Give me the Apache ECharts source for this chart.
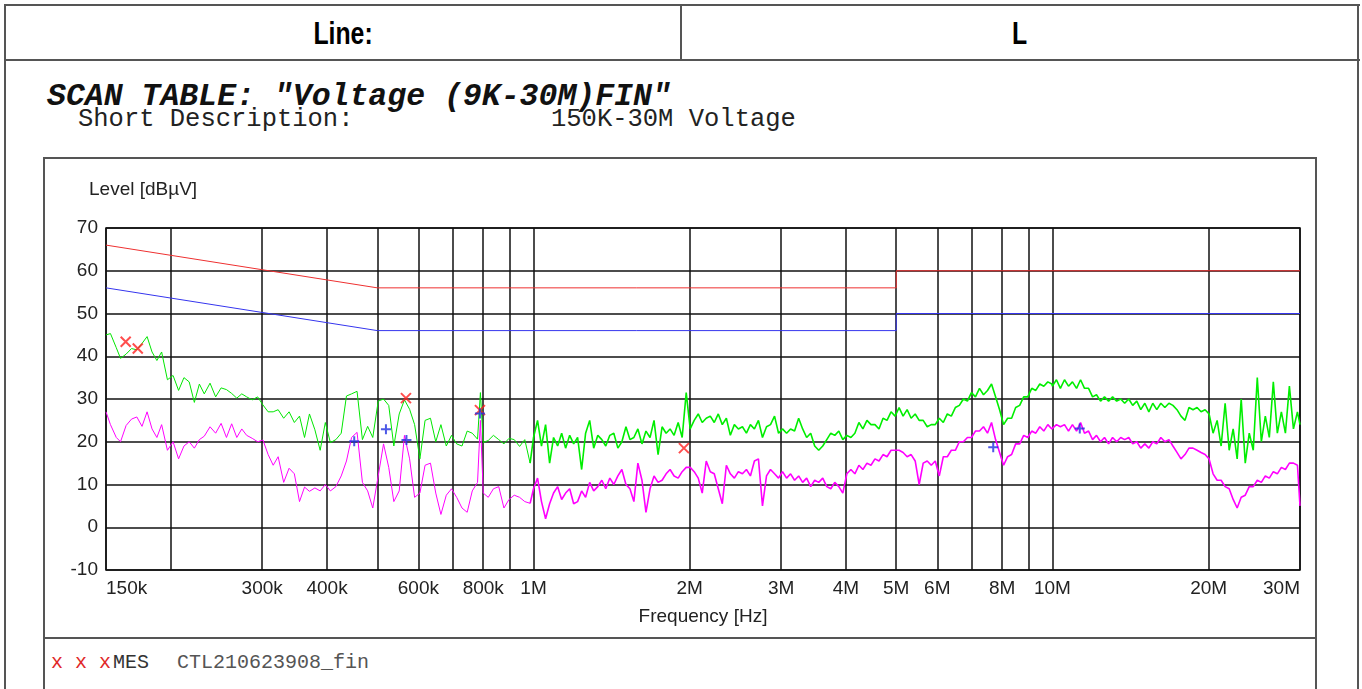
<!DOCTYPE html>
<html>
<head>
<meta charset="utf-8">
<title>SCAN TABLE Voltage (9K-30M)FIN</title>
<script src="https://cdn.jsdelivr.net/npm/echarts@6/dist/echarts.min.js"></script>
<style>
  html, body { margin: 0; padding: 0; background: #fff; }
  body { width: 1362px; height: 689px; position: relative; overflow: hidden; font-family: 'Liberation Sans', Arial, sans-serif; }
  .abs { position: absolute; box-sizing: border-box; }
  .hline { position: absolute; height: 2px; background: #555; }
  .vline { position: absolute; width: 2px; background: #555; }
  .hdr { position: absolute; top: 18px; font-size: 31px; line-height: 31px; font-weight: bold; color: #000; text-align: center; }
  .hdr span { display: inline-block; transform: scaleX(0.8); }
  .mono { position: absolute; font-family: 'Liberation Mono', 'Courier New', monospace; white-space: pre; }
</style>
</head>
<body>
<!-- outer table -->
<div class="hline" style="left:4px; top:4px; width:1356px"></div>
<div class="hline" style="left:4px; top:59px; width:1356px"></div>
<div class="vline" style="left:4px; top:4px; height:700px"></div>
<div class="vline" style="left:680px; top:4px; height:56px"></div>
<div class="vline" style="left:1357px; top:4px; height:700px"></div>
<div class="hdr" style="left:6px; width:674px"><span>Line:</span></div>
<div class="hdr" style="left:682px; width:675px"><span>L</span></div>

<!-- scan table heading -->
<div class="mono" style="left:47px; top:81px; font-size:31.5px; line-height:31.5px; font-weight:bold; font-style:italic; color:#111">SCAN TABLE: "Voltage (9K-30M)FIN"</div>
<div class="mono" style="left:78px; top:107px; font-size:25.5px; line-height:25.5px; color:#222">Short Description:</div>
<div class="mono" style="left:551px; top:107px; font-size:25.5px; line-height:25.5px; color:#222">150K-30M Voltage</div>

<!-- chart frame -->
<div class="hline" style="left:43px; top:157px; width:1274px"></div>
<div class="hline" style="left:43px; top:637px; width:1274px"></div>
<div class="vline" style="left:43px; top:157px; height:560px"></div>
<div class="vline" style="left:1315px; top:157px; height:560px"></div>

<!-- legend row -->
<div class="mono" style="left:51px; top:653px; font-size:20px; line-height:20px; color:#e02828">x x x</div>
<div class="mono" style="left:113px; top:653px; font-size:20px; line-height:20px; color:#333">MES</div>
<div class="mono" style="left:177px; top:653px; font-size:20px; line-height:20px; color:#555">CTL210623908_fin</div>

<div id="chart" class="abs" style="left:0; top:0; width:1362px; height:689px"></div>

<script>
  // frequencies in MHz, levels in dBuV
  const freqLow = [0.150,0.153,0.157,0.160,0.164,0.168,0.172,0.176,0.180,0.184,0.188,0.192,
    0.197,0.202,0.207,0.212,0.217,0.222,0.227,0.232,
    0.238,0.244,0.250,0.256,0.262,0.268,0.274,0.280,
    0.287,0.294,0.301,0.308,0.315,0.322,
    0.330,0.338,0.346,0.354,0.362,0.370,
    0.379,0.388,0.397,0.406,
    0.416,0.426,0.436,0.446,
    0.457,0.468,0.479,0.490,
    0.502,0.514,0.526,0.538,
    0.551,0.564,0.577,0.590,
    0.604,0.618,0.633,0.648,0.663,
    0.679,0.695,0.711,0.728,0.745,
    0.762,0.780,0.790,0.800,
    0.818,0.837,0.857,0.877,0.897,
    0.918,0.940,0.962,0.985];
  const freqMid = [1.000,1.018,1.036,1.055,1.074,1.093,1.113,1.133,1.153,1.174,
    1.195,1.216,1.238,1.260,1.283,1.306,1.330,1.354,1.378,1.403,
    1.428,1.454,1.480,1.507,1.534,1.561,1.589,1.618,1.647,1.677,
    1.707,1.738,1.769,1.801,1.833,1.866,1.900,1.934,1.969,2.004,
    2.040,2.077,2.114,2.152,2.191,2.230,2.270,2.311,2.353,2.395,
    2.438,2.482,2.527,2.572,2.618,2.665,2.713,2.762,2.812,2.862,
    2.914,2.966,3.019,3.074,3.129,3.185,3.243,3.301,3.360,3.421,
    3.482,3.545,3.609,3.674,3.740,3.807,3.876,3.945,4.016,4.089,
    4.162,4.237,4.313,4.391,4.470,4.550,4.632,4.716,4.800,4.887,
    4.975,5.064,5.155,5.248,5.342,5.439,5.536,5.636,5.737,5.841,
    5.946,6.053,6.162,6.272,6.385,6.500,6.617,6.736,6.858,6.981,
    7.107,7.235,7.365,7.497,7.632,7.770,7.910,8.052,8.197,8.344,
    8.495,8.648,8.803,8.962,9.123,9.287,9.454,9.624,9.798,9.974];
  const freqHigh = [10.00,10.18,10.36,10.55,10.74,10.93,11.13,11.33,11.53,11.74,
    11.95,12.16,12.38,12.60,12.83,13.06,13.30,13.54,13.78,14.03,
    14.28,14.54,14.80,15.07,15.34,15.61,15.89,16.18,16.47,16.77,
    17.07,17.38,17.69,18.01,18.33,18.66,19.00,19.34,19.69,20.04,
    20.40,20.77,21.14,21.52,21.91,22.30,22.70,23.11,23.53,23.95,
    24.38,24.82,25.27,25.72,26.18,26.65,27.13,27.62,28.12,28.62,
    29.14,29.66,30.00];

  // green trace
  const greenLow = [45,45.3,42,39.5,40.5,41.8,41.5,43,44.6,41,39,41,
    34.5,35.5,32,35,34,29.2,33.5,31.2,
    33.7,30.5,32.6,32.2,31.3,30.2,31.2,30.5,
    29.8,30.5,28.6,27,27,27.5,
    25.5,27,24.5,26,21,26.5,
    22.8,18,24.5,19.8,
    20.5,22,30.7,31.2,
    31.8,20.5,23.6,21,
    29.5,30,28.5,19,
    26.5,29.8,27.6,24,
    16,25,25.5,20,24,
    19,21.5,19.5,19,22.5,
    22,20.6,31.5,19.8,
    20.3,21.5,20.5,19.5,20.8,
    20.5,18.9,20.5,15];
  const greenMid = [21,25,19,24,15,21,19,22,18.5,21.5,
    19.5,21,13.5,22,25,18.5,21.5,20.5,19,21.5,
    22,18.5,20,23.5,20.5,21,23,19.5,22.5,21,
    25,17,23.5,22,23,21.5,24.5,21,31.5,23,
    25,26.5,24.5,25.5,26,24.5,26.5,24,25.5,21.5,
    24,23,23.5,22,24,23,25,21,23.5,24,
    26,22,23,22,23,22.5,25.5,23,21,22,
    19,18,19,20.5,22,21.5,22.5,20.5,21.5,21,
    22,24.5,23,25,24,24,23,25.5,25,27,
    26,28,26,27.5,25.5,26.5,25,25,23.5,24,
    24,25.5,24.5,26.5,26,28,28.5,30,29.5,31.5,
    30.5,32.5,31,32,33.5,30.5,27.5,24,25.5,25.5,
    28,28.5,30.5,30.5,32.5,32,33.5,33,34,33.5];
  const greenHigh = [33,34.5,32.5,34.5,33,34,32.5,34.5,32.5,32.5,
    30.5,31,29.5,30.5,29.5,30.5,29.5,30,29,30,
    28.5,29.5,27.5,29,27,29,27.5,29,28,29,
    28.5,27.5,26,25,28,27.5,28,27,27.5,26.5,
    22,25,19,29,18,23,16,30,15,22,
    18,35,20,26,21,34,22,27,22,33,
    23,27,24];

  // magenta trace
  const magentaLow = [27,24,21,20,23.8,25.3,25.8,23.6,27,23,21,24,
    18,20,16,19,20,18.5,20.5,21.3,
    23.5,22,24.3,21,24.2,21,23,21.5,
    20.8,20,20.4,17,14.5,16.5,
    10.5,13.8,12.5,6,9.4,8.4,
    9.2,8.5,10,8.5,
    9.5,12,15.5,21,
    22.2,10.5,8.5,4.5,
    12,19.5,14,6,
    8.5,21.5,16,7,
    8,14.5,15,8,3,
    7.5,9,7,4.5,3.5,
    8.5,10.5,25,8,
    7,9,9.5,4.5,6.5,
    7.5,7,6,5.6];
  const magentaMid = [9,11.5,6,2,5.5,8,9.5,6.5,8,9,
    5.5,6,8.5,7,10.5,8.5,9.5,11,9,11.5,
    10,12,13.5,10,9,6,15,11,3.5,9,
    12,10.5,11,12.5,13.5,12,11.5,13,14,14,
    13,11.5,8,15.5,13,12.5,9,5.5,14.5,12.5,
    11.5,13,12.5,13.5,12,15.5,16,5,12,13.5,
    12.5,11.5,13,11.5,12.5,11,12,10.5,11.5,9.5,
    11,10.5,11.5,9.5,9,10.5,9.5,8,12.5,13.5,
    12.5,14.5,13.5,15,14.5,16,15.5,17,16.5,18,
    18,18,17.5,16.5,17,15.5,10,15,15.5,14.5,
    15.5,12,16.5,16.5,18,18,20,20,21,21,
    22.5,22.5,23.5,22,24.5,20.5,17.5,14.5,16.5,17,
    19.5,19.5,21.5,21,22.5,22,23.5,22.5,24,23];
  const magentaHigh = [23,24,23.5,24,22.5,24,22.5,24.5,22,22.5,
    20.5,21.5,20,21,19.5,21,20,21,20.5,21,
    19.5,20,18.5,19.5,18.5,20,19.5,21,20,20.5,
    19,17.5,16,17,18.5,18.5,18,17.5,17,16,
    12.5,11,11,9.5,9,6.5,4.5,7,7.5,9.5,
    9.5,11,10.5,12,11.5,13,12.5,14,13.5,15,
    15,14.5,5];

  // limit lines
  const limitFreq = [0.15, 0.5, 5, 5, 30];
  const qpLimit = [66, 56, 56, 60, 60];
  const avLimit = [56, 46, 46, 50, 50];

  // final measurement markers
  const qpMarkFreq = [0.1637, 0.1727, 0.5677, 0.7884, 1.949];
  const qpMarkLevel = [43.4, 41.8, 30.2, 27.4, 18.5];
  const avMarkFreq = [0.4513, 0.5195, 0.5690, 0.7884, 7.69, 11.29];
  const avMarkLevel = [20.1, 22.9, 20.4, 26.6, 18.7, 23.1];

  // axis
  const gridFreq = [0.15,0.2,0.3,0.4,0.5,0.6,0.7,0.8,0.9,1,2,3,4,5,6,7,8,9,10,20,30];
  const tickFreq = [0.15,0.3,0.4,0.6,0.8,1,2,3,4,5,6,8,10,20,30];
  const tickText = ['150k','300k','400k','600k','800k','1M','2M','3M','4M','5M','6M','8M','10M','20M','30M'];

  const lg = v => Math.log10(v);
  function pairs(fs, ls) {
    let out = [];
    for (let i = 0; i < fs.length; i++) out.push([lg(fs[i]), ls[i]]);
    return out;
  }
  function tickLabel(v) {
    for (let i = 0; i < tickFreq.length; i++) {
      if (Math.abs(lg(tickFreq[i]) - v) < 1e-6) return tickText[i];
    }
    return '';
  }

  const font = "'Liberation Sans', Arial, sans-serif";
  // the sweep below 1 MHz is drawn thin, the dense part above 1 MHz a bit heavier
  const greenLowData = pairs(freqLow, greenLow);
  const greenHighData = pairs(freqLow.slice(-1).concat(freqMid, freqHigh), greenLow.slice(-1).concat(greenMid, greenHigh));
  const magentaLowData = pairs(freqLow, magentaLow);
  const magentaHighData = pairs(freqLow.slice(-1).concat(freqMid, freqHigh), magentaLow.slice(-1).concat(magentaMid, magentaHigh));

  let option = {
    animation: false,
    grid: { left: 106, right: 62, top: 228, bottom: 119, show: true, borderColor: '#111', borderWidth: 1.5, backgroundColor: 'transparent' },
    xAxis: {
      type: 'value',
      min: lg(0.15),
      max: lg(30),
      axisLine: { show: false },
      axisTick: { show: false, customValues: gridFreq.map(lg) },
      axisLabel: {
        customValues: tickFreq.map(lg),
        formatter: tickLabel,
        color: '#222', fontSize: 19, fontFamily: font, margin: 9,
        alignMinLabel: 'left', alignMaxLabel: 'right'
      },
      splitLine: { show: true, lineStyle: { color: '#111', width: 1.5 } },
      name: 'Frequency [Hz]',
      nameLocation: 'middle',
      nameGap: 37,
      nameTextStyle: { color: '#222', fontSize: 19, fontFamily: font }
    },
    yAxis: {
      type: 'value',
      min: -10, max: 70, interval: 10,
      axisLine: { show: false },
      axisTick: { show: false },
      axisLabel: { color: '#222', fontSize: 19, fontFamily: font, margin: 8 },
      splitLine: { show: true, lineStyle: { color: '#111', width: 1.5 } }
    },
    graphic: [{
      type: 'text', left: 89, top: 180,
      style: { text: 'Level [dBµV]', fill: '#222', font: "19px 'Liberation Sans', Arial, sans-serif" }
    }],
    series: [
      {
        name: 'QP limit', type: 'line', data: pairs(limitFreq, qpLimit),
        showSymbol: false, lineStyle: { color: '#ee3030', width: 1 }, z: 2
      },
      {
        name: 'AV limit', type: 'line', data: pairs(limitFreq, avLimit),
        showSymbol: false, lineStyle: { color: '#3535ee', width: 1 }, z: 2
      },
      {
        name: 'Peak', type: 'line', data: greenLowData,
        showSymbol: false, lineStyle: { color: '#00e600', width: 1 }, z: 3
      },
      {
        name: 'Peak', type: 'line', data: greenHighData,
        showSymbol: false, lineStyle: { color: '#00ee00', width: 1.6 }, z: 3
      },
      {
        name: 'Average', type: 'line', data: magentaLowData,
        showSymbol: false, lineStyle: { color: '#ff00ff', width: 1 }, z: 4
      },
      {
        name: 'Average', type: 'line', data: magentaHighData,
        showSymbol: false, lineStyle: { color: '#ff00ff', width: 1.6 }, z: 4
      },
      {
        name: 'MES QP', type: 'scatter', data: pairs(qpMarkFreq, qpMarkLevel),
        symbol: 'path://M0,0L10,10M10,0L0,10', symbolSize: 10,
        itemStyle: { color: 'none', borderColor: '#ff2020', borderWidth: 2 }, z: 6
      },
      {
        name: 'MES AV', type: 'scatter', data: pairs(avMarkFreq, avMarkLevel),
        symbol: 'path://M5,0L5,10M0,5L10,5', symbolSize: 10,
        itemStyle: { color: 'none', borderColor: '#2030e0', borderWidth: 2 }, z: 6
      }
    ]
  };

  echarts.init(document.getElementById('chart')).setOption(option);
</script>
</body>
</html>
